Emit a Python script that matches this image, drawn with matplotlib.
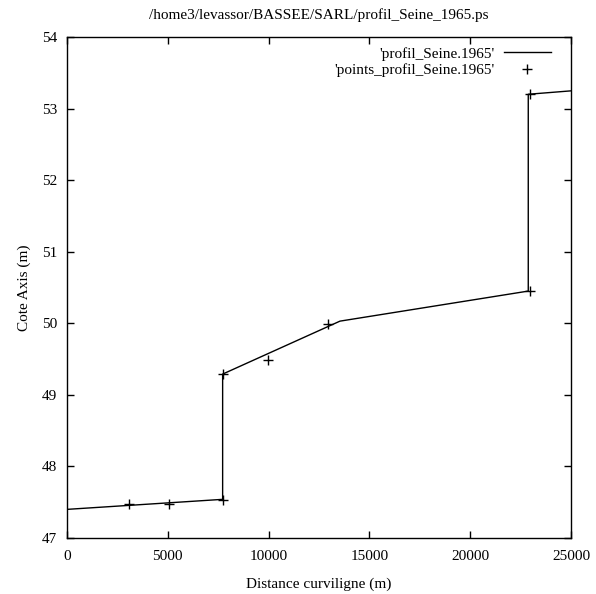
import matplotlib
matplotlib.use("Agg")
import matplotlib.pyplot as plt

plt.rcParams['font.family'] = ['Liberation Serif', 'DejaVu Serif']

# profile line (distance, elevation)
line_x = [0, 7720, 7720, 13540, 22880, 22880, 26000]
line_y = [47.40, 47.54, 49.29, 50.03, 50.45, 53.20, 53.27]

# measured points
pts_x = [3090, 5080, 7720, 7720, 9950, 12960, 22970, 22970]
pts_y = [47.48, 47.48, 47.53, 49.29, 49.49, 49.99, 50.45, 53.21]

xticks = [0, 5000, 10000, 15000, 20000, 25000]
yticks = [47, 48, 49, 50, 51, 52, 53, 54]

fig = plt.figure(figsize=(5.96, 5.94), dpi=100)
ax = fig.add_axes([67/596, 56/594, 504/596, 501/594])

ax.plot(line_x, line_y, color='black', lw=1.0, label="'profil_Seine.1965'")
ax.plot(pts_x, pts_y, linestyle='none', marker='+', color='black', markersize=7,
        markeredgewidth=1.0, label="'points_profil_Seine.1965'")

ax.set_xlim(0, 25000)
ax.set_ylim(47, 54)
ax.set_xticks(xticks)
ax.set_yticks(yticks)
ax.tick_params(direction='in', length=5, width=1, top=True, right=True, labelsize=11, pad=7)
ax.tick_params(axis='x', pad=9)
for s in ax.spines.values():
    s.set_linewidth(1.0)

ax.set_xlabel('Distance curviligne (m)', fontsize=11, labelpad=10)
ax.set_ylabel('Cote Axis (m)', fontsize=11, labelpad=8)
ax.set_title('/home3/levassor/BASSEE/SARL/profil_Seine_1965.ps', fontsize=11, pad=13)

ax.legend(loc='upper right', bbox_to_anchor=(0.9603, 0.980), frameon=False,
          markerfirst=False, fontsize=11, handlelength=3.1, labelspacing=0.17,
          borderaxespad=0.0, borderpad=0.0, handletextpad=0.6)

fig.savefig('out.png', dpi=100)
